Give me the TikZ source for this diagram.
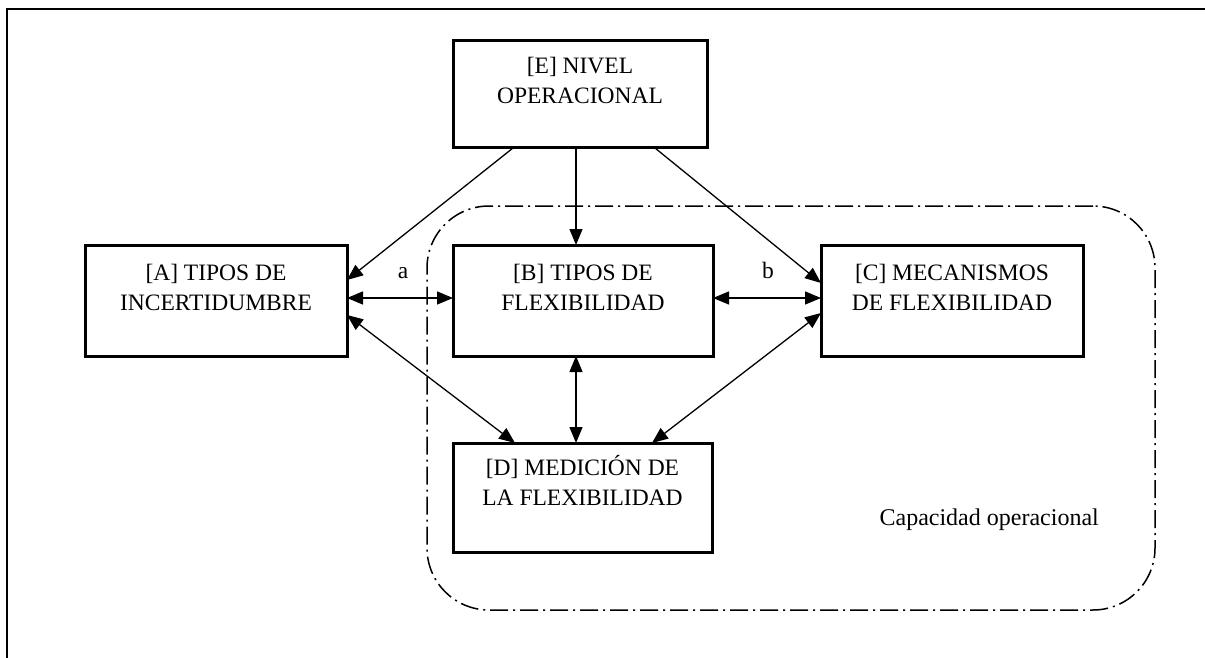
\documentclass[tikz,border=0pt]{standalone}
\usepackage{fontspec}
\setmainfont{Liberation Serif}
\usetikzlibrary{arrows.meta}
% strut that fixes the height of the first text line in every box
\newcommand\lnstrut{\rule{0pt}{22pt}}
\begin{document}
\begin{tikzpicture}[x=1pt,y=-1pt,
  box/.style={draw, line width=3pt, inner sep=0pt, outer sep=0pt},
  boxtext/.style={anchor=north, align=center, inner sep=0pt,
    font=\fontsize{23.5}{30.5}\selectfont},
  conn/.style={line width=1.3pt, -{Triangle[length=16pt,width=13pt]}},
  biconn/.style={line width=1.3pt, {Triangle[length=16pt,width=13pt]}-{Triangle[length=16pt,width=13pt]}},
  lbl/.style={anchor=base, inner sep=0pt, font=\fontsize{23.5}{28}\selectfont},
  zone/.style={draw, line width=1.5pt, rounded corners=62pt,
    dash pattern=on 18pt off 5pt on 2pt off 5pt, inner sep=0pt}
]
\useasboundingbox (0,0) rectangle (1205,658);

% page frame (top and left edges)
\draw[line width=2pt] (1205,9) -- (7,9) -- (7,658);

% region of operational capacity
\node[zone, minimum width=728pt, minimum height=404pt] (zonecap) at (791,408) {};
\node[lbl, anchor=base east, font=\fontsize{24}{28}\selectfont] (capt) at (1099,525) {Capacidad operacional};

% boxes
\node[box, minimum width=254pt, minimum height=107pt] (E) at (580,94.5) {};
\node[box, minimum width=262pt, minimum height=111pt] (A) at (216,300.5) {};
\node[box, minimum width=260pt, minimum height=111pt] (B) at (583,300.5) {};
\node[box, minimum width=262pt, minimum height=111pt] (C) at (952,300.5) {};
\node[box, minimum width=259pt, minimum height=109pt] (D) at (582.5,497.5) {};

% box texts
\node[boxtext] (Et) at ([yshift=-10pt]E.north) {\lnstrut[E] NIVEL\\OPERACIONAL};
\node[boxtext] (At) at ([yshift=-13pt]A.north) {\lnstrut[A] TIPOS DE\\INCERTIDUMBRE};
\node[boxtext] (Bt) at ([yshift=-13pt]B.north) {\lnstrut[B] TIPOS DE\\FLEXIBILIDAD};
\node[boxtext] (Ct) at ([yshift=-13pt]C.north) {\lnstrut[C] MECANISMOS\\DE FLEXIBILIDAD};
\node[boxtext] (Dt) at ([yshift=-10pt]D.north) {\lnstrut[D] MEDICIÓN DE\\LA FLEXIBILIDAD};

% connectors from the operational level
\draw[conn] ([xshift=-67pt]E.south) -- ([yshift=-35pt]A.north east);
\draw[conn] ([xshift=-4pt]E.south) -- ([xshift=-7pt]B.north);
\draw[conn] ([xshift=75pt]E.south) -- ([yshift=-38pt]C.north west);

% two-way relations
\draw[biconn] ([yshift=-53pt]A.north east) -- ([yshift=-53pt]B.north west);
\draw[biconn] ([yshift=-53pt]B.north east) -- ([yshift=-53pt]C.north west);
\draw[biconn] ([yshift=-70pt]A.north east) -- ([xshift=-67.5pt]D.north);
\draw[biconn] ([xshift=-7pt]B.south) -- ([xshift=-6.5pt]D.north);
\draw[biconn] ([yshift=-68pt]C.north west) -- ([xshift=69.5pt]D.north);

% relation labels
\node[lbl] (la) at (403,278) {a};
\node[lbl] (lb) at (768,278) {b};
\end{tikzpicture}
\end{document}
